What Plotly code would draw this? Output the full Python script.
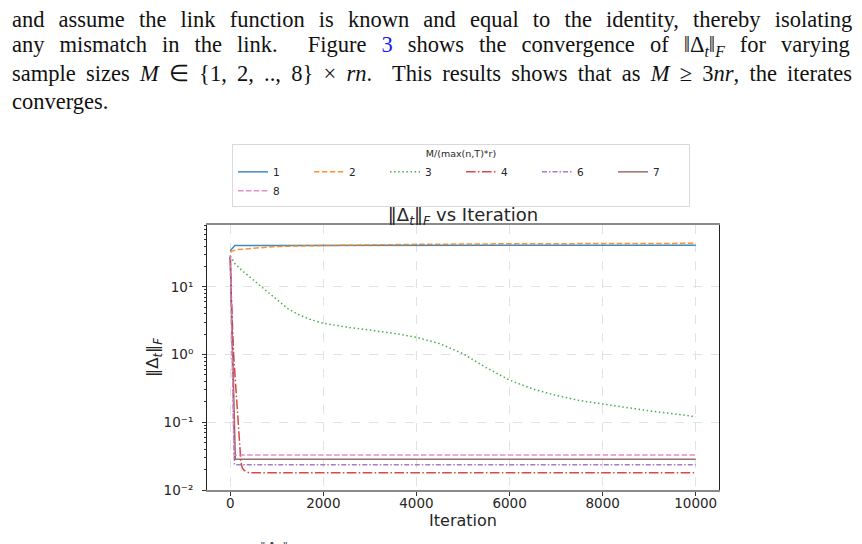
import plotly.graph_objects as go

# ---------------- data ----------------
labels = ["1", "2", "3", "4", "6", "7", "8"]

iters_1 = [0, 100, 10000]
vals_1 = [34.3, 41.0, 41.3]

iters_2 = [0, 50, 150, 335, 600, 930, 1500, 2500, 4000, 6000, 8000, 10000]
vals_2 = [32.5, 34.0, 35.5, 36.5, 38.0, 39.3, 40.3, 41.3, 42.5, 43.3, 43.8, 44.0]

iters_3 = [0, 100, 250, 500, 750, 1000, 1250, 1500, 1750, 2000, 2500, 3000, 3500,
           4000, 4500, 5000, 5500, 6000, 6500, 7000, 7500, 8000, 8500, 9000, 9500, 10000]
vals_3 = [28.6, 22.0, 17.5, 12.5, 8.8, 6.5, 4.7, 3.8, 3.25, 2.9, 2.55, 2.3, 2.07,
          1.8, 1.45, 1.03, 0.64, 0.42, 0.31, 0.25, 0.21, 0.186, 0.165, 0.148, 0.134, 0.121]

iters_4 = [0, 15, 72, 178, 228, 260, 300, 400, 10000]
vals_4 = [28.0, 10.0, 1.0, 0.1, 0.026, 0.021, 0.0195, 0.018, 0.018]

iters_6 = [0, 90, 10000]
vals_6 = [28.0, 0.0236, 0.0236]

iters_7 = [0, 110, 10000]
vals_7 = [28.0, 0.0284, 0.0284]

iters_8 = [0, 80, 10000]
vals_8 = [29.6, 0.0328, 0.0328]

x_ticks = [0, 2000, 4000, 6000, 8000, 10000]
x_ticktext = ["0", "2000", "4000", "6000", "8000", "10000"]
y_ticks = [0.01, 0.1, 1, 10]
y_ticktext = ["10⁻²", "10⁻¹", "10⁰", "10¹"]

paragraph = [
    "and assume the link function is known and equal to the identity, thereby isolating",
    "any mismatch in the link.&nbsp; Figure <span style='color:#1a1aff'>3</span> shows the convergence of "
    "‖Δ<sub><i>t</i></sub>‖<sub><i>F</i></sub> for varying",
    "sample sizes <i>M</i> ∈ {1, 2, .., 8} × <i>rn</i>.&nbsp; This results shows that as "
    "<i>M</i> ≥ 3<i>nr</i>, the iterates",
    "converges.",
]
# extra space between words so that the first three lines are justified
word_gap = [8.5, 9.4, 4.6, 0]
caption_fragment = "‖Δ<sub><i>t</i></sub>‖"

# ---------------- styling ----------------
colors = ["#1f77b4", "#ff7f0e", "#2ca02c", "#d62728", "#9467bd", "#8c564b", "#e377c2"]
dashes = ["solid", "5.5px,2.4px", "1.5px,2.6px", "9.6px,2.4px,1.5px,2.4px",
          "5px,2px,1.5px,2px", "solid", "5.5px,2.4px"]

series = [(iters_1, vals_1), (iters_2, vals_2), (iters_3, vals_3), (iters_4, vals_4),
          (iters_6, vals_6), (iters_7, vals_7), (iters_8, vals_8)]

W, H = 862, 544
L, R, T, B = 207, 143, 225, 54
PW, PH = W - L - R, H - T - B


def px_x(px):
    return (px - L) / PW


def px_y(py):
    return (H - B - py) / PH


fig = go.Figure()
for lab, (xs, ys), c, d in zip(labels, series, colors, dashes):
    fig.add_trace(go.Scatter(
        x=xs, y=ys, mode="lines", name=lab,
        line=dict(color=c, width=1.5, dash=d), opacity=0.85,
    ))

font_family = "DejaVu Sans"
txt_col = "#262626"

minor_vals = [m * 10 ** e for e in range(-3, 3) for m in range(2, 10)]

fig.update_layout(
    width=W, height=H,
    margin=dict(l=L, r=R, t=T, b=B),
    paper_bgcolor="white", plot_bgcolor="white",
    font=dict(family=font_family, color=txt_col, size=13),
    title=dict(
        text="‖Δ<sub><i>t</i></sub>‖<sub><i>F</i></sub> vs Iteration",
        x=0.5, xref="paper", xanchor="center",
        y=1 - 215 / H, yref="container", yanchor="middle",
        font=dict(size=18, family=font_family, color=txt_col),
    ),
    xaxis=dict(
        range=[-500, 10500], tickvals=x_ticks, ticktext=x_ticktext,
        ticks="outside", ticklen=4, tickcolor="#333", tickfont=dict(size=13.5),
        ticklabelstandoff=-4,
        showgrid=True, gridcolor="#e2e2e2", griddash="dash", gridwidth=1,
        zeroline=False,
        showline=True, linecolor="#8a8a8a", linewidth=2, mirror=True,
        title=dict(text="Iteration", font=dict(size=16), standoff=0),
    ),
    yaxis=dict(
        type="log", range=[-2, 1.914],
        tickvals=y_ticks, ticktext=y_ticktext,
        ticks="outside", ticklen=4, tickcolor="#333", tickfont=dict(size=13.5),
        ticklabelstandoff=6,
        minor=dict(tickvals=minor_vals, ticks="outside", ticklen=2, tickcolor="#333",
                   showgrid=False),
        showgrid=True, gridcolor="#e2e2e2", griddash="dash", gridwidth=1,
        zeroline=False,
        showline=True, linecolor="#222", linewidth=1, mirror=True,
        title=dict(text="‖Δ<sub><i>t</i></sub>‖<sub><i>F</i></sub>", font=dict(size=16.5),
                   standoff=0),
    ),
    legend=dict(
        orientation="h", x=px_x(232), y=px_y(144), xanchor="left", yanchor="top",
        entrywidth=31, entrywidthmode="pixels", itemwidth=30,
        bgcolor="white", bordercolor="#d9d9d9", borderwidth=1,
        font=dict(size=10.5, family=font_family, color=txt_col),
        title=dict(text="M/(max(n,T)*r)", side="top center",
                   font=dict(size=9.5, family=font_family, color=txt_col)),
        tracegroupgap=0,
    ),
    showlegend=True,
)

# paragraph text above the figure
line_y = [19, 46, 74, 101]
for t, yy, g in zip(paragraph, line_y, word_gap):
    fig.add_annotation(
        text=f"<span style='word-spacing:{g}px'>{t}</span>",
        x=px_x(10), y=px_y(yy), xref="paper", yref="paper",
        xanchor="left", yanchor="middle", showarrow=False,
        font=dict(family="Liberation Serif", size=22.5, color="#111"),
    )

# top of the next caption line, cut off by the bottom edge of the page
fig.add_annotation(
    text=caption_fragment, x=px_x(274), y=px_y(536), xref="paper", yref="paper",
    xanchor="center", yanchor="top", showarrow=False,
    font=dict(family="Liberation Serif", size=20, color="#444"),
)

fig.write_html("out.html")
